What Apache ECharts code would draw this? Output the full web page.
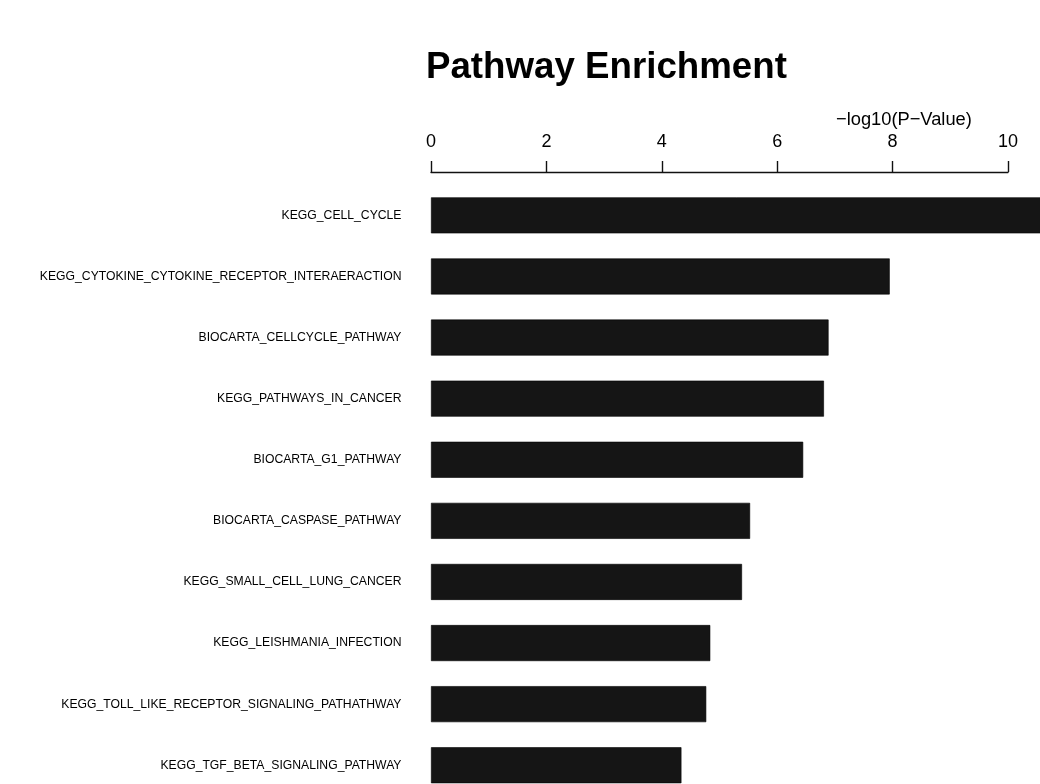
<!DOCTYPE html>
<html><head><meta charset="utf-8">
<script src="https://cdn.jsdelivr.net/npm/echarts@6/dist/echarts.min.js"></script>
<style>html,body{margin:0;padding:0;background:#fff;overflow:hidden}#c{width:1040px;height:810px}</style>
</head><body><div id="c"></div>
<script>
const pathways = [
  'KEGG_CELL_CYCLE',
  'KEGG_CYTOKINE_CYTOKINE_RECEPTOR_INTERAERACTION',
  'BIOCARTA_CELLCYCLE_PATHWAY',
  'KEGG_PATHWAYS_IN_CANCER',
  'BIOCARTA_G1_PATHWAY',
  'BIOCARTA_CASPASE_PATHWAY',
  'KEGG_SMALL_CELL_LUNG_CANCER',
  'KEGG_LEISHMANIA_INFECTION',
  'KEGG_TOLL_LIKE_RECEPTOR_SIGNALING_PATHATHWAY',
  'KEGG_TGF_BETA_SIGNALING_PATHWAY'
];
const negLog10P = [10.9, 7.95, 6.89, 6.81, 6.45, 5.53, 5.39, 4.84, 4.77, 4.34];
const xTicks = [0, 2, 4, 6, 8, 10];
const titleText = 'Pathway Enrichment';
const axisTitle = '\u2212log10(P\u2212Value)';

const FONT = "'Liberation Sans', Arial, Helvetica, sans-serif";
const chart = echarts.init(document.getElementById('c'), null, {renderer: 'canvas'});
chart.setOption({
  backgroundColor: '#ffffff',
  animation: false,
  title: {
    text: titleText, left: 421, top: 44,
    textStyle: {fontFamily: FONT, fontWeight: 'bold', fontSize: 36.7, color: '#000'}
  },
  graphic: [{
    type: 'text', left: 836, top: 110.5,
    style: {text: axisTitle, font: '18.3px ' + FONT, fill: '#000'}
  }],
  grid: {left: 431, right: 32, top: 184.8, height: 611, containLabel: false},
  xAxis: {
    type: 'value', position: 'top', min: xTicks[0], max: xTicks[xTicks.length - 1], interval: 2,
    offset: 12.8,
    axisLine: {show: true, lineStyle: {color: '#111', width: 1.4}},
    axisTick: {show: true, length: 11, lineStyle: {color: '#111', width: 1.4}},
    axisLabel: {fontFamily: FONT, fontSize: 18, color: '#000', margin: 21},
    splitLine: {show: false}
  },
  yAxis: {
    type: 'category', data: pathways, inverse: true,
    axisLine: {show: false}, axisTick: {show: false},
    axisLabel: {fontFamily: FONT, fontSize: 12.2, color: '#000', margin: 29.5}
  },
  series: [{
    type: 'bar', data: negLog10P, barWidth: 36, clip: false,
    itemStyle: {color: '#151515', borderColor: '#000', borderWidth: 0.6}
  }]
});
</script></body></html>
